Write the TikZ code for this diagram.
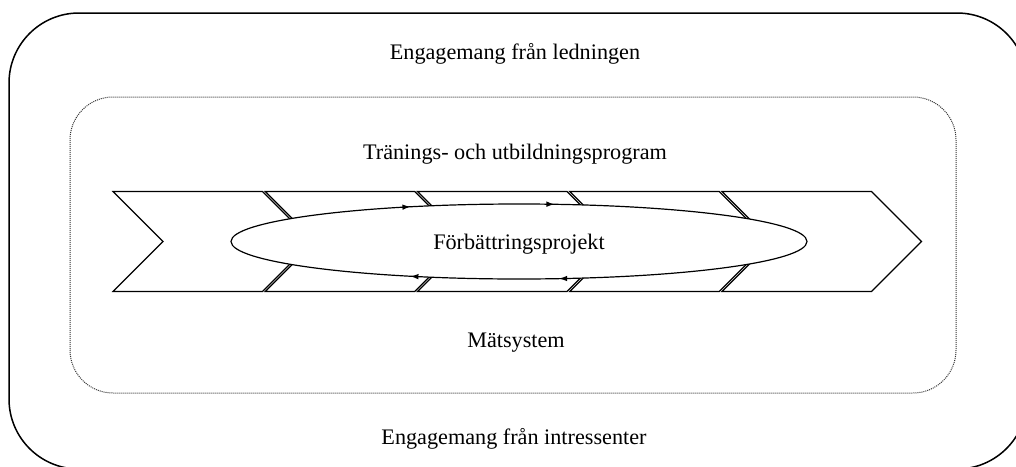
\documentclass[tikz,border=0pt]{standalone}
\usepackage{fontspec}
\setmainfont{Liberation Serif}
\usetikzlibrary{shapes.geometric,arrows.meta,decorations.markings}

\begin{document}
\begin{tikzpicture}[
  x=0.5pt, y=-0.5pt,
  frame/.style={draw=black, line width=0.75pt, rounded corners=35pt},
  zone/.style={draw=black!80, dash pattern=on 0.5pt off 0.5pt, line width=0.5pt, rounded corners=21.5pt},
  chev/.style={draw=black, line width=0.6pt, fill=white, line join=miter},
  lbl/.style={font=\fontsize{11.1}{13}\selectfont, inner sep=0pt},
  cyc/.style={
    draw=black, fill=white, ellipse, line width=0.6pt,
    minimum width=288pt, minimum height=37.5pt, inner sep=0pt,
    font=\fontsize{11.1}{13}\selectfont,
    postaction={decorate},
    decoration={markings,
      mark=at position 0.22 with {\arrowreversed{Latex[length=4pt,width=2.8pt]}},
      mark=at position 0.342 with {\arrowreversed{Latex[length=4pt,width=2.8pt]}},
      mark=at position 0.658 with {\arrowreversed{Latex[length=4pt,width=2.8pt]}},
      mark=at position 0.784 with {\arrowreversed{Latex[length=4pt,width=2.8pt]}}}
  }
]
\useasboundingbox (0,0) rectangle (1016,466);
\clip (0,0) rectangle (1016,466);

% Frames
\draw[frame] (9,13) rectangle (1027,469);
\draw[zone] (70,97) rectangle (956,393);

% Texts
\node[lbl] (lead) at (515,54) {Engagemang från ledningen};
\node[lbl] (train) at (515,154) {Tränings- och utbildningsprogram};
\node[lbl] (meas) at (516,343) {Mätsystem};
\node[lbl] (stake) at (514,439) {Engagemang från intressenter};

% Chevrons
\foreach \i in {0,...,4}{
  \pgfmathsetmacro\xl{113+152.25*\i}
  \draw[chev] (\xl,191.5) -- ++(149.5,0) -- ++(50,50) -- ++(-50,50)
    -- ++(-149.5,0) -- ++(50,-50) -- cycle;
}

% Improvement cycle
\node[cyc] (proj) at (519,241.5) {\raisebox{-4.2pt}[0pt][0pt]{Förbättringsprojekt}};
\end{tikzpicture}
\end{document}
